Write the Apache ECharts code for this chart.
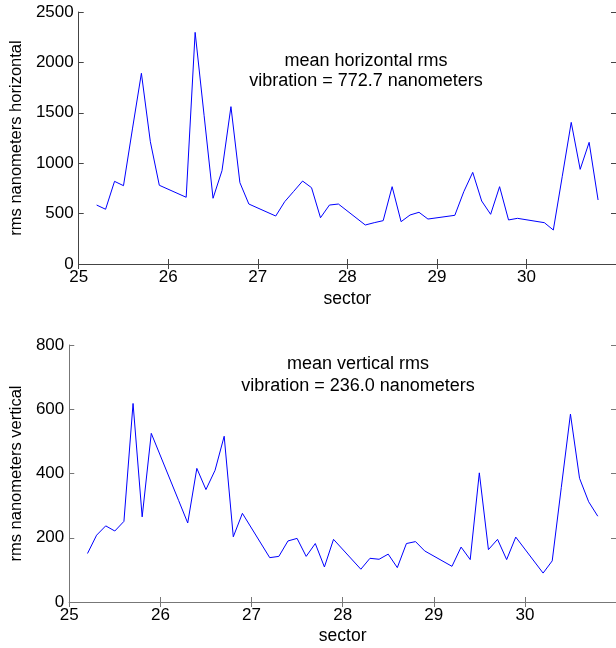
<!DOCTYPE html>
<html>
<head>
<meta charset="utf-8">
<script src="https://cdn.jsdelivr.net/npm/echarts@6/dist/echarts.min.js"></script>
<style>
  html, body { margin: 0; padding: 0; background: #fff; }
  #chart { width: 616px; height: 648px; }
</style>
</head>
<body>
<div id="chart"></div>
<script>
// Sector positions of the measurement stations (same for both panels)
const sectors = [
  25.2, 25.3, 25.4, 25.5, 25.6, 25.7, 25.8, 25.9,
  26.2, 26.3, 26.4, 26.5, 26.6, 26.7, 26.8, 26.9,
  27.2, 27.3, 27.4, 27.5, 27.6, 27.7, 27.8, 27.9,
  28.2, 28.3, 28.4, 28.5, 28.6, 28.7, 28.8, 28.9,
  29.2, 29.3, 29.4, 29.5, 29.6, 29.7, 29.8, 29.9,
  30.2, 30.3, 30.4, 30.5, 30.6, 30.7, 30.8
];

// Horizontal rms vibration, nanometers
const horizontalRms = [
  585, 543, 820, 777, 1340, 1892, 1213, 781,
  662, 2298, 1475, 652, 926, 1561, 807, 595,
  476, 618, 720, 823, 757, 459, 585, 595,
  387, 410, 430, 767, 420, 486, 513, 446,
  483, 717, 909, 625, 493, 767, 437, 453,
  410, 337, 870, 1405, 939, 1207, 635
];

// Vertical rms vibration, nanometers
const verticalRms = [
  151, 208, 237, 221, 251, 618, 265, 525,
  316, 246, 416, 350, 410, 516, 203, 276,
  138, 142, 190, 198, 142, 182, 109, 195,
  102, 136, 133, 149, 107, 182, 188, 159,
  111, 171, 132, 402, 163, 195, 132, 202,
  90, 128, 357, 585, 385, 312, 267
];

const sectorTicks = { min: 25, max: 31, interval: 1 };
const horizontalTicks = { min: 0, max: 2500, interval: 500 };
const verticalTicks = { min: 0, max: 800, interval: 200 };

const horizontalNote = ['mean horizontal rms', 'vibration = 772.7 nanometers'];
const verticalNote = ['mean vertical rms', 'vibration = 236.0 nanometers'];

const FONT = 'Liberation Sans, Arial, sans-serif';
const tickStyle = { color: '#000', fontSize: 17, fontFamily: FONT };
const xNameStyle = { color: '#000', fontSize: 17.5, fontFamily: FONT };
const yNameStyle = { color: '#000', fontSize: 16.5, fontFamily: FONT };

function pairs(xs, ys) {
  return xs.map((x, i) => [x, ys[i]]);
}

function plain(v) {
  return String(v);
}

function mainX(grid, ticks, color, nameGap) {
  return {
    type: 'value', gridIndex: grid, position: 'bottom',
    min: ticks.min, max: ticks.max, interval: ticks.interval,
    name: 'sector', nameLocation: 'middle', nameGap: nameGap,
    nameTextStyle: xNameStyle,
    axisLine: { show: true, lineStyle: { color: color, width: 1 } },
    axisTick: { show: true, inside: true, length: 5, lineStyle: { color: color } },
    axisLabel: Object.assign({ margin: 5, showMaxLabel: false, formatter: plain }, tickStyle),
    splitLine: { show: false }
  };
}

function mirrorX(grid, ticks, color) {
  return {
    type: 'value', gridIndex: grid, position: 'top',
    min: ticks.min, max: ticks.max, interval: ticks.interval,
    axisLine: { show: true, lineStyle: { color: color, width: 1 } },
    axisTick: { show: true, inside: true, length: 5, lineStyle: { color: color } },
    axisLabel: { show: false },
    splitLine: { show: false }
  };
}

function mainY(grid, ticks, color, name, nameGap) {
  return {
    type: 'value', gridIndex: grid, position: 'left',
    min: ticks.min, max: ticks.max, interval: ticks.interval,
    name: name, nameLocation: 'middle', nameGap: nameGap,
    nameTextStyle: yNameStyle,
    axisLine: { show: true, lineStyle: { color: color, width: 1 } },
    axisTick: { show: true, inside: true, length: 5, lineStyle: { color: color } },
    axisLabel: Object.assign({ margin: 5, formatter: plain }, tickStyle),
    splitLine: { show: false }
  };
}

function mirrorY(grid, ticks, color) {
  return {
    type: 'value', gridIndex: grid, position: 'right',
    min: ticks.min, max: ticks.max, interval: ticks.interval,
    axisLine: { show: true, lineStyle: { color: color, width: 1 } },
    axisTick: { show: true, inside: true, length: 5, lineStyle: { color: color } },
    axisLabel: { show: false },
    splitLine: { show: false }
  };
}

function note(lines, x, y, lh) {
  return {
    type: 'text', x: x, y: y, z: 10,
    style: {
      text: lines.join('\n'), textAlign: 'center', textVerticalAlign: 'top',
      fill: '#000', font: '18px ' + FONT, lineHeight: lh
    }
  };
}

const chart = echarts.init(document.getElementById('chart'), null, { renderer: 'canvas' });

chart.setOption({
  animation: false,
  backgroundColor: '#fff',
  grid: [
    { left: 75, top: 12, width: 542, height: 252, containLabel: false },
    { left: 67, top: 345, width: 556, height: 257, containLabel: false }
  ],
  xAxis: [
    mainX(0, sectorTicks, '#444', 26),
    mirrorX(0, sectorTicks, '#444'),
    mainX(1, sectorTicks, '#777', 25),
    mirrorX(1, sectorTicks, '#777')
  ],
  yAxis: [
    mainY(0, horizontalTicks, '#444', 'rms nanometers horizontal', 33),
    mirrorY(0, horizontalTicks, '#444'),
    mainY(1, verticalTicks, '#777', 'rms nanometers vertical', 41),
    mirrorY(1, verticalTicks, '#777')
  ],
  series: [
    {
      type: 'line', xAxisIndex: 0, yAxisIndex: 0,
      data: pairs(sectors, horizontalRms),
      showSymbol: false, lineStyle: { color: '#0000ff', width: 1 }
    },
    {
      type: 'line', xAxisIndex: 2, yAxisIndex: 2,
      data: pairs(sectors, verticalRms),
      showSymbol: false, lineStyle: { color: '#0000ff', width: 1 }
    }
  ],
  graphic: [
    note(horizontalNote, 366, 51, 20),
    note(verticalNote, 358, 353, 22)
  ]
});
</script>
</body>
</html>
